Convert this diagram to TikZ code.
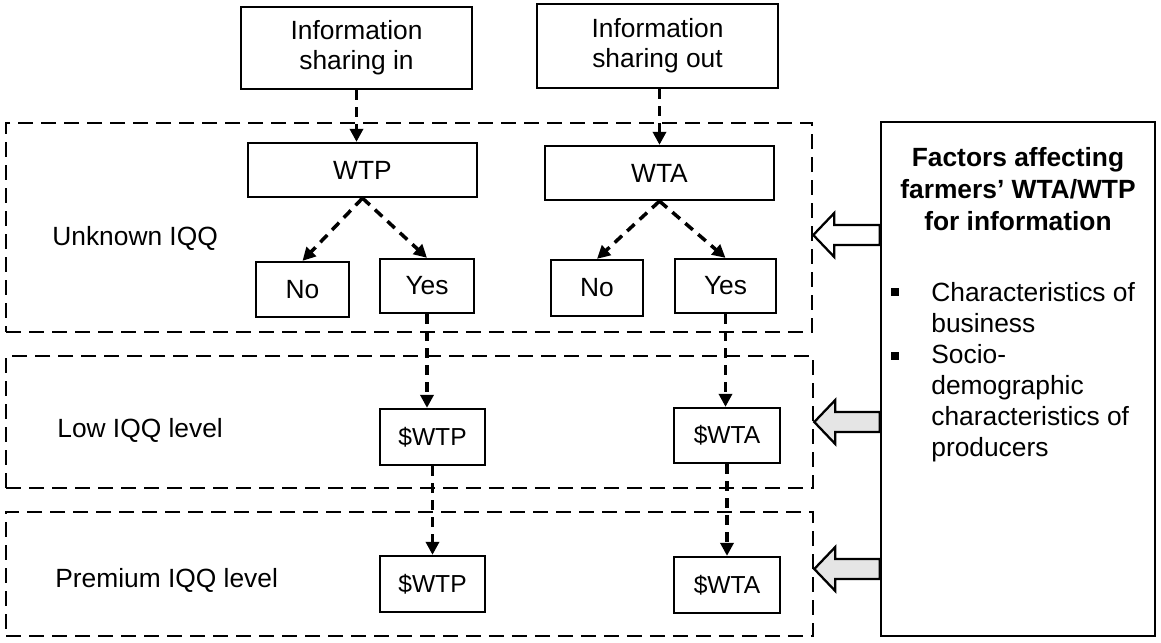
\documentclass[tikz,border=0pt]{standalone}
\usepackage{fontspec}
\setmainfont{Liberation Sans}
\usetikzlibrary{arrows.meta,calc}

\tikzset{
  box/.style={draw, line width=1.3pt, inner sep=0pt, align=center},
  pricebox/.style={box, font=\fontsize{14}{16}\selectfont},
  frame/.style={draw, line width=1.55pt, dash pattern=on 0.3cm off 0.16cm},
  flow/.style={line width=2pt, dash pattern=on 0.2cm off 0.14cm,
    -{Triangle[length=0.26cm,width=0.26cm]}},
}

% block arrow from the factor box to a frame: #1 = height, #2 = fill, #3 = frame
\newcommand{\factorarrow}[3]{%
  \draw[line width=1.3pt, fill=#2]
    (fac.west |- 0,#1-10) -- ($(#3.east |- 0,#1)+(21,-10)$) -- ++(0,-12)
    -- (#3.east |- 0,#1) -- ($(#3.east |- 0,#1)+(21,22)$) -- ++(0,-12)
    -- (fac.west |- 0,#1+10) -- cycle;}

\begin{document}
\begin{tikzpicture}[x=0.02cm, y=-0.02cm, font=\fontsize{15}{17}\selectfont]
  \useasboundingbox (0,0) rectangle (1161,643);

  %% levels
  \node[frame, minimum width=16.12cm, minimum height=4.18cm] (unk) at (409,227.5) {};
  \node[frame, minimum width=16.14cm, minimum height=2.64cm] (low) at (409.5,422) {};
  \node[frame, minimum width=16.14cm, minimum height=2.48cm] (prem) at (409.5,574) {};

  \node[anchor=west, inner sep=0pt] (lblUnk) at (52,238) {Unknown IQQ};
  \node[anchor=west, inner sep=0pt] (lblLow) at (57,430) {Low IQQ level};
  \node[anchor=west, inner sep=0pt] (lblPrem) at (55,580) {Premium IQQ level};

  %% sharing in
  \node[box, minimum width=4.62cm, minimum height=1.64cm] (inA) at (356.5,48) {Information\\sharing in};
  \node[box, minimum width=4.58cm, minimum height=1.08cm] (wtp) at (362.5,170) {WTP};
  \node[box, minimum width=1.86cm, minimum height=1.1cm] (noP) at (302.5,289.5) {No};
  \node[box, minimum width=1.88cm, minimum height=1.08cm] (yesP) at (427,286) {Yes};
  \node[pricebox, minimum width=2.1cm, minimum height=1.12cm] (lowP) at (432.5,437) {\$WTP};
  \node[pricebox, minimum width=2.1cm, minimum height=1.12cm] (premP) at (432.5,584) {\$WTP};

  %% sharing out
  \node[box, minimum width=4.82cm, minimum height=1.68cm] (inB) at (657.5,46) {Information\\sharing out};
  \node[box, minimum width=4.58cm, minimum height=1.08cm] (wta) at (659.5,173) {WTA};
  \node[box, minimum width=1.84cm, minimum height=1.12cm] (noA) at (597,288) {No};
  \node[box, minimum width=2.02cm, minimum height=1.08cm] (yesA) at (725.5,286) {Yes};
  \node[pricebox, minimum width=2.12cm, minimum height=1.1cm] (lowA) at (727,435.5) {\$WTA};
  \node[pricebox, minimum width=2.12cm, minimum height=1.12cm] (premA) at (727,585) {\$WTA};

  % flows
  \draw[flow] (inA.south) -- (inA.south |- wtp.north);
  \draw[flow] (wtp.south) -- (noP.north);
  \draw[flow] (wtp.south) -- (yesP.north);
  \draw[flow] (yesP.south) -- (yesP.south |- lowP.north);
  \draw[flow] (lowP.south) -- (premP.north);

  \draw[flow] (inB.south -| wta.north) -- (wta.north);
  \draw[flow] (wta.south) -- (noA.north);
  \draw[flow] (wta.south) -- (yesA.north);
  \draw[flow] (yesA.south) -- (yesA.south |- lowA.north);
  \draw[flow] (lowA.south) -- (premA.north);

  %% factors
  \node[box, minimum width=5.48cm, minimum height=10.28cm] (fac) at (1018,379) {};
  \node[anchor=north, inner sep=0pt, align=center, font=\bfseries\fontsize{15}{18.1}\selectfont]
    (title) at (1018,147) {Factors affecting\\farmers' WTA/WTP\\for information};
  \node[anchor=north west, inner sep=0pt, align=left, font=\fontsize{15}{17.6}\selectfont]
    (items) at (931,282) {Characteristics of\\business\\Socio-\\demographic\\characteristics of\\producers};
  \fill (891,288) rectangle (899,296);
  \fill (891,352) rectangle (899,360);

  \factorarrow{235}{white}{unk}
  \factorarrow{422}{black!10}{low}
  \factorarrow{569}{black!10}{prem}
\end{tikzpicture}
\end{document}
